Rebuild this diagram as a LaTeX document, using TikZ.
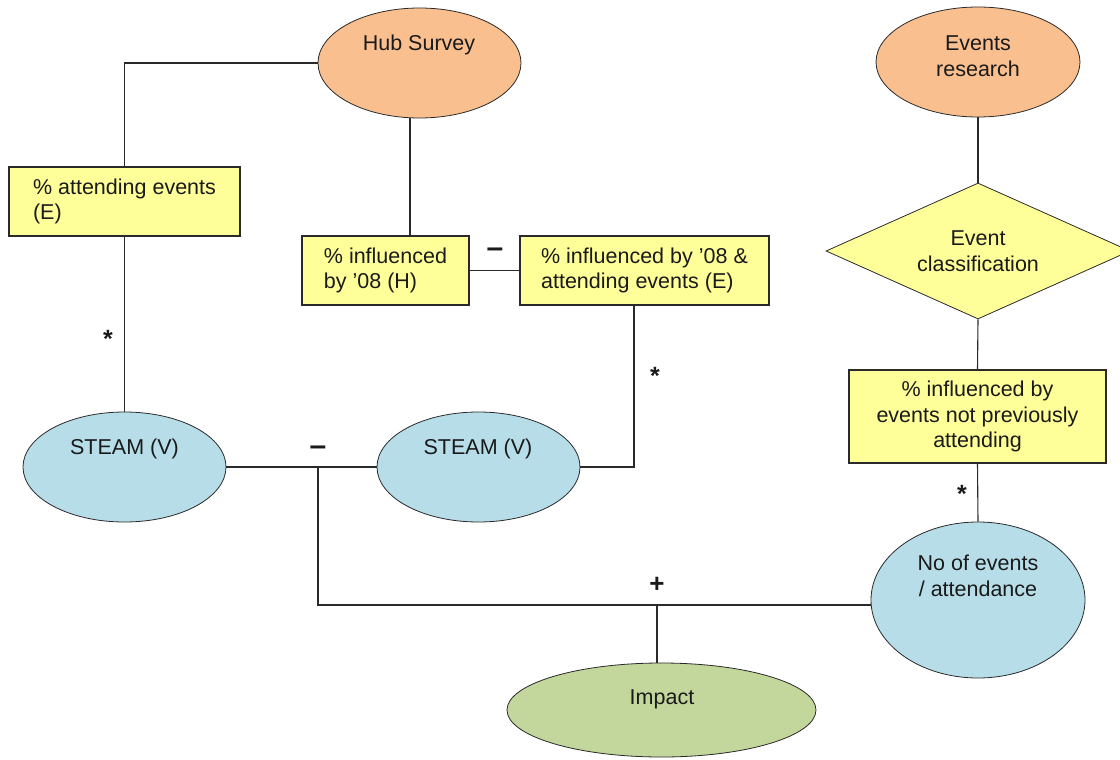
\documentclass[tikz,border=0pt]{standalone}
\usepackage{fontspec}
\setmainfont{Liberation Sans}
\usetikzlibrary{shapes.geometric}
\definecolor{orangef}{HTML}{FABF8F}
\definecolor{bluef}{HTML}{B7DDE8}
\definecolor{yellowf}{HTML}{FFFF99}
\definecolor{greenf}{HTML}{C3D69B}
\definecolor{linec}{HTML}{2A2A2A}
\definecolor{textc}{HTML}{1A1A1A}
\begin{document}
\begin{tikzpicture}[x=1pt,y=-1pt,
  font=\fontsize{21.5}{25.5}\selectfont,
  ell/.style={ellipse, draw=linec, line width=0.8pt, inner sep=0pt},
  box/.style={rectangle, draw=linec, line width=1.2pt, fill=yellowf, inner sep=0pt, text=textc},
  lbl/.style={inner sep=0pt, text=textc},
  conn/.style={draw=linec, line width=1.1pt},
  sgn/.style={inner sep=0pt, anchor=base, text=textc, font=\fontsize{30}{30}\selectfont\bfseries},
  pls/.style={inner sep=0pt, anchor=base, text=textc, font=\fontsize{26}{26}\selectfont\bfseries},
  starlbl/.style={inner sep=0pt, anchor=base, text=textc, font=\fontsize{25}{25}\selectfont\bfseries}]
\useasboundingbox (0,0) rectangle (1120,760);
\clip (0,0) rectangle (1120,760);
\fill[white] (0,0) rectangle (1120,760);

% ellipses
\node[ell, fill=orangef, minimum width=203pt, minimum height=110pt] (hub) at (419.5,63) {};
\node[lbl] (hubt) at (419,45) {Hub Survey};
\node[ell, fill=orangef, minimum width=204pt, minimum height=110pt] (evr) at (978,62) {};
\node[lbl, align=center] (evrt) at (978,56) {Events\\research};

% boxes
\node[box, minimum width=231pt, minimum height=69pt, align=left] (b1) at (124.5,201.5) {\% attending events\\(E)};
\node[box, minimum width=167pt, minimum height=69pt, align=left] (b2) at (385.5,270.5) {\% influenced\\by ’08 (H)};
\node[box, minimum width=249pt, minimum height=69pt, align=left] (b3) at (644.5,270.5) {\% influenced by ’08 \&\\attending events (E)};
\node[diamond, draw=linec, line width=0.8pt, fill=yellowf, aspect=2.235, minimum width=304pt, minimum height=136pt, inner sep=0pt, align=center, text=textc] (dia) at (978,251) {Event\\classification};
\node[box, minimum width=257pt, minimum height=93pt, align=center] (b4) at (977.5,416.5) {\% influenced by\\events not previously\\attending};

\node[ell, fill=bluef, minimum width=203pt, minimum height=110pt] (s1) at (124.5,467) {};
\node[lbl] (s1t) at (124.5,449) {STEAM (V)};
\node[ell, fill=bluef, minimum width=203pt, minimum height=110pt] (s2) at (478.5,467) {};
\node[lbl] (s2t) at (478,449) {STEAM (V)};
\node[ell, fill=bluef, minimum width=214pt, minimum height=156pt] (ne) at (978,600) {};
\node[lbl, align=center] (net) at (978,576) {No of events\\/ attendance};
\node[ell, fill=greenf, minimum width=309pt, minimum height=94pt] (imp) at (661.5,710) {};
\node[lbl] (impt) at (662,699) {Impact};

% connectors
\draw[conn] (hub.west) -| (b1.north);
\draw[conn] (b1.south) -- (s1.north);
\coordinate (h2) at ([xshift=24.5pt]b2.north);
\draw[conn] (h2) -- (h2 |- hub.south);
\draw[conn] (b2.east) -- (b3.west);
\coordinate (c3) at ([xshift=-10.5pt]b3.south);
\draw[conn] (c3) |- (s2.east);
\draw[conn] (s1.east) -- (s2.west);
\draw[conn] (evr.south) -- (dia.north);
\draw[conn] (dia.south) -- (b4.north);
\draw[conn] (b4.south) -- (ne.north);
\coordinate (j1) at (318,467);
\coordinate (j2) at (318,605);
\coordinate (j3) at (657,605);
\draw[conn] (j1) -- (j2) -- (j2 -| ne.west);
\draw[conn] (j3) -- (j3 |- imp.north);

% signs
\node[sgn] (m1) at (318,455) {–};
\node[sgn] (m2) at (495,257) {–};
\node[pls] (p1) at (657,592) {+};
\node[starlbl] (st1) at (108,347) {*};
\node[starlbl] (st2) at (655,384) {*};
\node[starlbl] (st3) at (962,502) {*};
\end{tikzpicture}
\end{document}
